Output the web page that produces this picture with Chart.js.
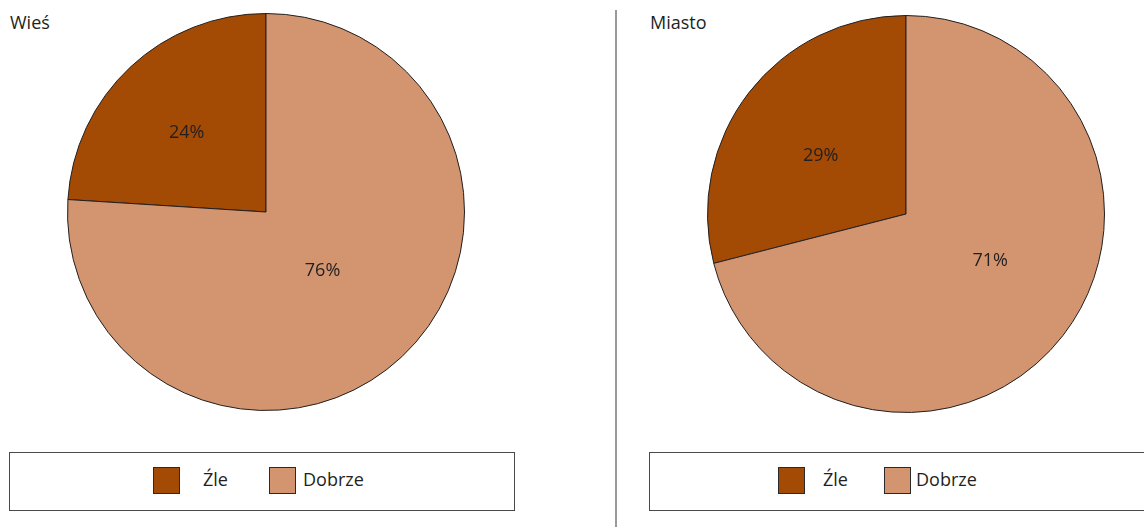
<!DOCTYPE html>
<html>
<head>
<meta charset="utf-8">
<script src="https://cdn.jsdelivr.net/npm/chart.js@4/dist/chart.umd.min.js"></script>
<style>
  body { margin: 0; width: 1144px; height: 527px; background: #fff; position: relative; overflow: hidden;
         font-family: 'Open Sans', sans-serif; color: #231f20; }
  .title { position: absolute; font-size: 18px; top: 10px; }
  .pie { position: absolute; width: 398px; height: 398px; }
  .divider { position: absolute; left: 615px; top: 10px; width: 2px; height: 517px; background: #9a9a9a; }
  .legend { position: absolute; top: 452px; height: 57px; border: 1.5px solid #4a4a4a; }
  .sw { position: absolute; top: 14px; width: 27px; height: 27px; border: 1.5px solid #2a2a2a; box-sizing: border-box; }
  .lt { position: absolute; top: 14px; font-size: 18px; }
</style>
</head>
<body>
<div class="title" style="left:10px">Wieś</div>
<div class="title" style="left:650px">Miasto</div>
<div class="divider"></div>
<div class="pie" style="left:67px;top:13px"><canvas id="wiesChart"></canvas></div>
<div class="pie" style="left:707px;top:15px"><canvas id="miastoChart"></canvas></div>
<div class="legend" id="wiesLegend" style="left:9px;width:504px"></div>
<div class="legend" id="miastoLegend" style="left:649px;width:520px"></div>
<script>
const categories = ['Źle', 'Dobrze'];
const wiesValues = [24, 76];
const miastoValues = [29, 71];
const colors = ['#a34a05', '#d29570'];

// draws "24%" etc. inside each slice: fraction of radius + small angle nudge (deg)
const sliceLabels = {
  id: 'sliceLabels',
  afterDatasetsDraw(chart, args, opts) {
    const ctx = chart.ctx;
    const values = chart.data.datasets[0].data;
    chart.getDatasetMeta(0).data.forEach((arc, i) => {
      const mid = (arc.startAngle + arc.endAngle) / 2 + opts.nudge[i] * Math.PI / 180;
      const r = arc.outerRadius * opts.fractions[i];
      ctx.save();
      ctx.font = '18px "Open Sans", sans-serif';
      ctx.fillStyle = '#231f20';
      ctx.textAlign = 'center';
      ctx.textBaseline = 'middle';
      ctx.fillText(values[i] + '%', arc.x + Math.cos(mid) * r, arc.y + Math.sin(mid) * r);
      ctx.restore();
    });
  }
};

function makePie(id, values, fractions, nudge) {
  return new Chart(document.getElementById(id), {
    type: 'pie',
    data: {
      labels: categories,
      datasets: [{
        data: values,
        backgroundColor: colors,
        borderColor: '#231f20',
        borderWidth: 1
      }]
    },
    options: {
      responsive: true,
      maintainAspectRatio: false,
      animation: false,
      // Źle ends at 12 o'clock, Dobrze starts there going clockwise
      rotation: -values[0] / 100 * 360,
      layout: { padding: 0 },
      plugins: {
        legend: { display: false },
        tooltip: { enabled: false },
        sliceLabels: { fractions: fractions, nudge: nudge }
      }
    },
    plugins: [sliceLabels]
  });
}

const wiesChart = makePie('wiesChart', wiesValues, [0.565, 0.41], [-1.8, -0.8]);
const miastoChart = makePie('miastoChart', miastoValues, [0.52, 0.486], [-3.5, -8.6]);

function buildLegend(id, pos) {
  const box = document.getElementById(id);
  categories.forEach((c, i) => {
    const sw = document.createElement('div');
    sw.className = 'sw';
    sw.style.left = pos[i][0] + 'px';
    sw.style.background = colors[i];
    box.appendChild(sw);
    const t = document.createElement('div');
    t.className = 'lt';
    t.style.left = pos[i][1] + 'px';
    t.textContent = c;
    box.appendChild(t);
  });
}

buildLegend('wiesLegend', [[143, 193], [259, 293]]);
buildLegend('miastoLegend', [[128, 173], [234, 266]]);
</script>
</body>
</html>
